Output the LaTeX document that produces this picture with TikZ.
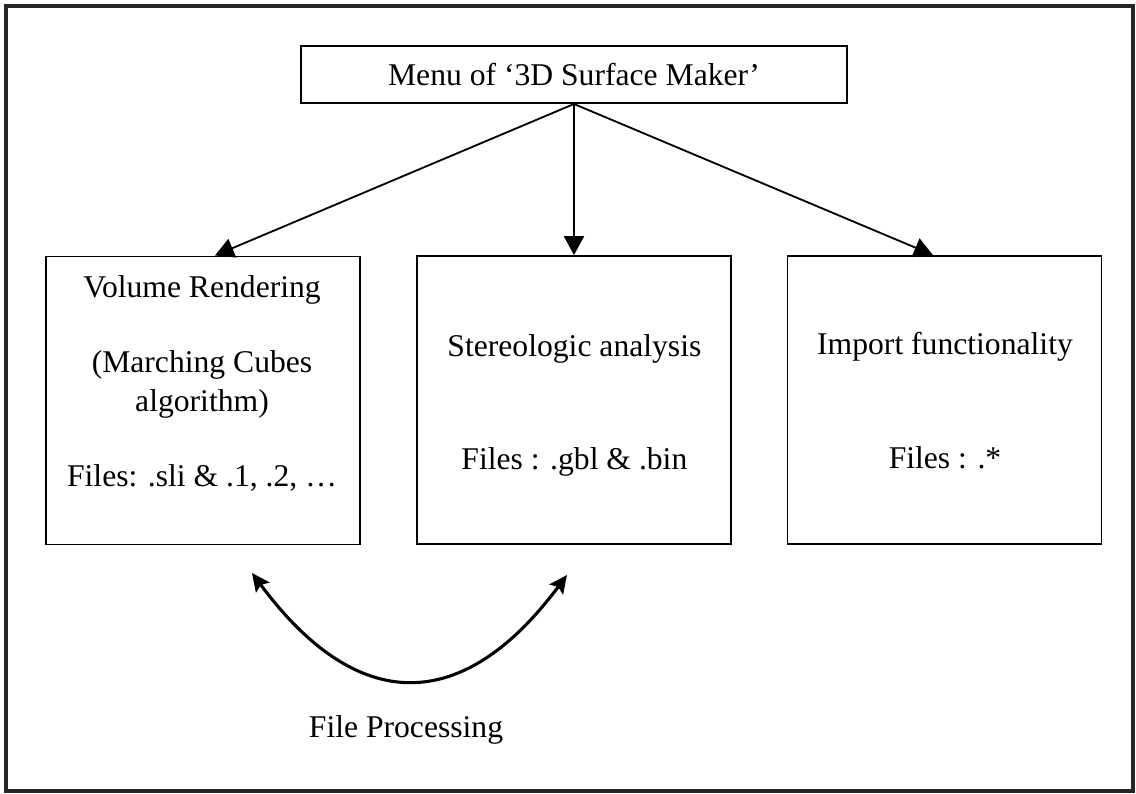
\documentclass[tikz,border=0pt]{standalone}
\usepackage{fontspec}
\setmainfont{Liberation Serif}
\usepackage{tikz}
\usetikzlibrary{arrows.meta}
\usetikzlibrary{positioning}
\newcommand{\boxfont}{\fontsize{22.5}{28.2}\selectfont}
\tikzset{
    block/.style={
      rectangle,
      draw=black,
      line width=1.4pt,
      minimum width=7.85cm,
      minimum height=7.2cm,
      inner sep=0pt
    },
    menubox/.style={
      rectangle,
      draw=black,
      line width=1.4pt,
      minimum width=13.65cm,
      minimum height=1.425cm,
      inner sep=0pt,
      font=\boxfont
    },
    txt/.style={
      font=\boxfont,
      align=center,
      anchor=base,
      inner sep=0pt
    },
    flow/.style={
      -{Triangle[length=0.47cm,width=0.5cm]},
      line width=1.3pt
    },
    swap/.style={
      {Stealth[length=0.45cm,width=0.42cm,inset=0.08cm]}-{Stealth[length=0.45cm,width=0.42cm,inset=0.08cm]},
      line width=2.2pt
    },
}

\begin{document}
\begin{tikzpicture}[scale=1]
    \useasboundingbox (0,0) rectangle (28.4,19.825);
    \draw[line width=2.4pt,color=black!85] (0.15,0.05) rectangle (28.325,19.675);

    \draw (14.35,17.9625) node[menubox] (Menu) {Menu of `3D Surface Maker'};

    \draw (5.075,9.8125) node[block] (Vol) {};
    \draw (14.35,9.825) node[block] (Ste) {};
    \draw (23.6125,9.825) node[block] (Imp) {};

    % texts in the boxes
    \draw (5.05,12.375) node[txt] (VolA) {Volume Rendering};
    \draw (5.05,9.525) node[txt] (VolB) {(Marching Cubes\\algorithm)};
    \draw (5.05,7.65) node[txt] (VolC) {Files: .sli \& .1, .2, \dots};

    \draw (14.36,10.9) node[txt] (SteA) {Stereologic analysis};
    \draw (14.36,8.075) node[txt] (SteB) {Files : .gbl \& .bin};

    \draw (23.625,10.95) node[txt] (ImpA) {Import functionality};
    \draw (23.625,8.1) node[txt] (ImpB) {Files : .*};

    \path (Menu.south) edge[flow] ([xshift=0.3cm]Vol.north);
    \path (Menu.south) edge[flow] (Ste.north);
    \path (Menu.south) edge[flow] ([xshift=-0.29cm]Imp.north);

    % file processing
    \coordinate (PL) at (6.3,5.5);
    \coordinate (PR) at (14.175,5.45);
    \draw[swap] (PL) .. controls (8.93,1.95) and (11.56,1.94) .. (PR);
    \draw (10.15,1.4) node[txt] (Proc) {File Processing};
\end{tikzpicture}
\end{document}
